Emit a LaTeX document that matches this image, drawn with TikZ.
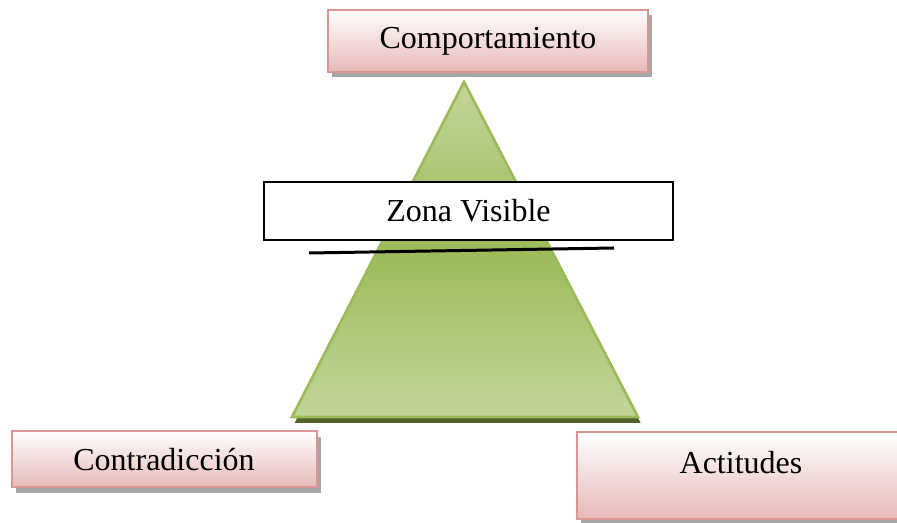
\documentclass[tikz,border=0pt]{standalone}
\usepackage{fontspec}
\setmainfont{Liberation Serif}
\usetikzlibrary{shadows}
\definecolor{PinkLine}{HTML}{D99694}
\definecolor{PinkDark}{HTML}{E6B9B8}
\definecolor{GreenLine}{HTML}{9BBB59}
\definecolor{GreenLight}{HTML}{C3D69B}
\definecolor{GreenShadow}{HTML}{4F6228}
\tikzset{
  PinkBox/.style = {draw = PinkLine, line width = 1.5pt, top color = white, bottom color = PinkDark,
    font = \fontsize{24}{28}\selectfont, inner sep = 0pt,
    drop shadow = {shadow xshift = 3pt, shadow yshift = -4pt, fill = black, opacity = .35}},
  ZoneBox/.style = {draw = black, line width = 1pt, fill = white, inner sep = 0pt,
    font = \fontsize{24}{28}\selectfont},
  Pyramid/.style = {draw = GreenLine, line width = 2pt, top color = GreenLight,
    bottom color = GreenLight, middle color = GreenLine,
    drop shadow = {shadow xshift = 2pt, shadow yshift = -4.5pt, fill = GreenShadow, opacity = 1}}
}

\begin{document}
\begin{tikzpicture}[x=0.75pt, y=-0.75pt]
    \useasboundingbox (0,0) rectangle (897,523);
    % pyramid
    \coordinate (apex) at (464,82);
    \coordinate (baseL) at (292,417);
    \coordinate (baseR) at (638,417);
    \path [Pyramid] (apex) -- (baseR) -- (baseL) -- cycle;
    % boxes
    \node [PinkBox, minimum width = 240pt, minimum height = 46.5pt] (comp) at (488,41) {Comportamiento};
    \node [PinkBox, minimum width = 228.75pt, minimum height = 42pt] (contra) at (164,459.5) {Contradicción};
    \node [PinkBox, minimum width = 246pt, minimum height = 65pt, text depth = 19pt] (act) at (741,475.5) {Actitudes};
    \node [ZoneBox, minimum width = 306.75pt, minimum height = 43.5pt] (zona) at (468.5,211) {Zona Visible};
    % line under the visible zone
    \coordinate (lineL) at (309,253);
    \coordinate (lineR) at (614,248);
    \draw [line width = 2.25pt] (lineL) -- (lineR);
\end{tikzpicture}
\end{document}
